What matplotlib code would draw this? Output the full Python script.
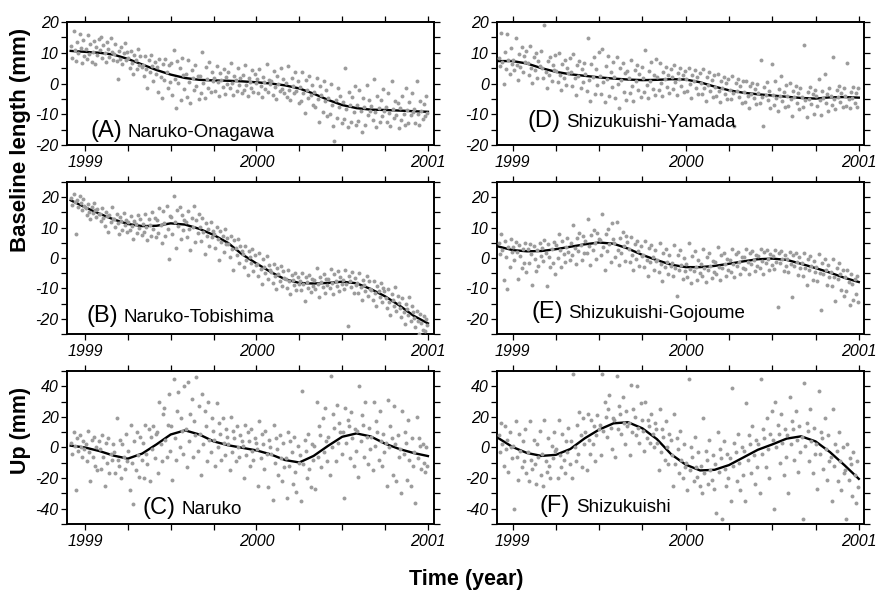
import numpy as np
import matplotlib
matplotlib.use('Agg')
import matplotlib.pyplot as plt
from matplotlib.ticker import MultipleLocator, FixedLocator

plt.rcParams['font.family'] = ['Liberation Sans', 'DejaVu Sans']
plt.rcParams['axes.unicode_minus'] = False

# first day of each month in the record, Dec 1998 .. Dec 2000
month_start = 1998 + 11 / 12 + np.arange(25) / 12
# knots of the smooth fit, one per month boundary
fit_t = 1998 + 11 / 12 + np.arange(26) / 12

year_ticks = [1999, 2000, 2001]

# (A) Naruko-Onagawa baseline (mm), 12 daily values read per month
onagawa_pts = [
    [12.1, 8.4, 17.2, 10.9, 7.3, 13.5, 9.8, 16.1, 11.6, 6.7, 14.2, 9.1],
    [11.3, 8.0, 15.8, 9.6, 12.7, 7.1, 10.4, 13.9, 6.5, 11.8, 9.2, 14.6],
    [10.8, 15.1, 8.3, 12.4, 9.9, 6.9, 13.6, 11.2, 8.7, 14.8, 10.1, 7.6],
    [9.5, 12.8, 7.2, 1.5, 10.6, 8.1, 11.9, 6.4, 9.8, 13.2, 7.7, 10.3],
    [8.3, 5.1, 10.7, 6.6, 3.2, 9.4, 7.8, 4.6, 11.2, 6.0, 8.9, 5.5],
    [6.1, 2.4, 8.8, 4.7, -1.3, 7.5, 3.6, 9.2, 5.8, 0.9, 6.9, 3.1],
    [5.4, -2.8, 7.9, 2.1, -4.6, 6.3, 1.2, 8.1, 3.9, -1.5, 5.9, 0.4],
    [6.6, -3.7, 10.8, 1.4, -8.1, 7.2, 0.3, 4.9, -5.2, 8.4, 2.7, -1.9],
    [3.2, -4.4, 7.8, 0.6, -6.3, 4.5, 1.9, -2.1, 6.1, -0.8, 2.6, -5.0],
    [2.4, -3.2, 10.4, 0.2, -4.8, 5.3, 1.6, -1.4, 7.1, -2.7, 3.8, 0.9],
    [1.8, -2.5, 5.6, 0.4, -4.1, 3.3, 1.2, -1.0, 4.7, -3.4, 2.2, -0.3],
    [3.9, -1.6, 6.8, 0.1, -3.7, 2.5, 1.3, -2.4, 5.2, -0.6, 1.9, -3.1],
    [2.8, -2.2, 5.9, -0.4, -3.9, 1.7, 0.6, -1.3, 4.4, -2.9, 3.1, 0.2],
    [1.4, -3.0, 4.6, -0.8, -4.3, 2.2, 0.5, -1.9, 6.3, -2.6, 1.0, -0.2],
    [0.9, -3.6, 4.1, -1.2, -4.9, 2.6, -0.1, -2.3, 5.0, -1.7, 1.5, -3.0],
    [0.2, -4.4, 5.8, -2.0, -5.5, 1.9, -0.9, -3.1, 3.6, -2.5, 0.7, -6.2],
    [-1.1, -5.8, 3.9, -3.0, -9.6, 1.2, -2.2, -4.7, 2.5, -3.6, -0.4, -7.1],
    [-2.9, -7.6, 1.8, -4.9, -12.6, -0.7, -3.8, -9.2, 0.9, -5.6, -2.1, -10.7],
    [-4.8, -9.9, -0.3, -6.9, -13.8, -18.7, -5.5, -11.2, -1.4, -7.6, -3.9, -12.8],
    [-6.1, -11.4, 4.9, -8.3, -14.2, -2.6, -7.0, -12.5, -4.3, -9.1, -0.8, -13.6],
    [-6.9, -12.1, -2.2, -9.0, -15.8, -4.6, -7.7, -13.4, -0.4, -10.2, -5.3, -8.8],
    [-7.3, -11.8, 1.6, -9.4, -14.1, -3.9, -8.1, -12.6, -5.2, -10.5, -1.7, -9.0],
    [-7.5, -12.4, -3.1, -9.6, -13.9, 0.8, -8.4, -11.3, -5.6, -10.1, -6.4, -14.5],
    [-7.9, -11.9, -4.2, -9.8, -13.6, -1.3, -8.6, -12.7, -5.9, -10.4, -3.0, -9.3],
    [-8.3, -12.8, 0.9, -9.9, -13.4, -5.7, -8.8, -11.6, -6.5, -10.7, -4.1, -9.5],
]
onagawa_fit = [10.6, 10.3, 10.0, 9.4, 8.0, 6.2, 4.4, 2.9, 1.8, 1.2, 1.0, 0.9, 0.7,
               0.4, 0.0, -0.6, -1.6, -3.3, -5.3, -7.0, -8.0, -8.5, -8.6, -8.8, -9.0, -9.2]

# (B) Naruko-Tobishima baseline (mm)
tobishima_pts = [
    [19.8, 17.6, 20.9, 18.4, 7.8, 19.1, 16.9, 20.3, 18.0, 15.7, 19.5, 17.2],
    [16.4, 14.1, 17.8, 15.2, 12.9, 16.8, 14.7, 18.2, 15.9, 13.4, 16.1, 14.4],
    [14.5, 12.2, 16.3, 13.1, 10.4, 15.0, 13.8, 8.6, 14.2, 11.7, 16.8, 12.9],
    [12.8, 10.1, 14.6, 11.4, 7.9, 13.5, 12.1, 9.3, 14.9, 11.0, 12.6, 8.7],
    [11.7, 9.2, 13.8, 10.5, 6.4, 12.3, 11.1, 8.1, 14.2, 10.0, 12.8, 7.5],
    [11.3, 8.6, 14.4, 10.1, 5.9, 12.7, 10.8, 7.4, 15.2, 9.6, 13.1, 6.8],
    [12.4, 8.3, 16.6, 10.9, 4.8, 15.3, 11.6, 7.1, 17.2, 9.5, -0.4, 13.8],
    [13.6, 7.9, 20.5, 11.8, 3.2, 15.9, 10.4, 16.8, 6.1, 14.3, 9.2, 12.5],
    [11.9, 6.8, 15.4, 9.7, 2.6, 13.1, 10.3, 17.0, 5.2, 12.4, 8.1, 14.6],
    [10.2, 5.6, 13.1, 8.4, 1.3, 11.5, 7.2, 9.6, 4.1, 12.0, 6.9, 8.8],
    [7.9, 3.3, 10.2, 6.1, -0.8, 8.8, 5.2, 7.4, 1.9, 9.5, 4.6, 6.7],
    [4.6, 0.2, 7.1, 2.8, -3.9, 5.9, 3.4, 1.1, 6.3, -1.7, 4.0, 2.2],
    [1.2, -2.9, 3.8, -0.7, -5.6, 2.4, 0.3, -1.8, 3.1, -4.2, 0.9, -2.3],
    [-1.9, -5.8, 1.7, -3.6, -8.7, -0.4, -2.8, -4.9, 0.8, -6.9, -2.2, -4.1],
    [-4.6, -8.3, -1.9, -5.9, -10.1, -3.4, -5.2, -7.6, -2.6, -9.2, -4.3, -6.7],
    [-6.8, -9.9, -4.1, -7.7, -11.8, -5.6, -7.1, -9.0, -4.9, -10.6, -6.3, -8.4],
    [-7.6, -10.4, -5.0, -8.5, -14.2, -6.3, -7.9, -9.8, -5.5, -11.3, -7.0, -9.1],
    [-7.2, -10.2, -3.4, -8.6, -12.9, -6.1, -7.8, -9.7, -5.3, -11.4, -6.8, -8.9],
    [-6.9, -9.8, -3.6, -8.1, -11.7, -5.4, -7.5, -9.3, -4.2, -10.8, -6.2, -8.6],
    [-7.1, -10.3, -3.9, -8.4, -22.5, -5.8, -7.7, -9.6, -4.6, -11.5, -6.5, -8.9],
    [-8.2, -11.6, -4.9, -9.5, -13.8, -7.1, -8.8, -10.7, -6.0, -12.4, -7.6, -10.1],
    [-10.4, -13.7, -7.5, -11.6, -15.9, -9.2, -10.9, -12.8, -8.1, -14.5, -9.8, -11.0],
    [-13.2, -16.4, -10.3, -14.5, -18.6, -12.0, -13.8, -15.7, -9.4, -17.3, -12.6, -14.9],
    [-16.4, -19.5, -13.1, -17.6, -21.8, -15.2, -16.9, -18.8, -12.7, -20.6, -15.7, -17.9],
    [-19.6, -22.8, -17.4, -20.7, -24.9, -18.5, -21.3, -23.6, -19.2, -24.1, -20.0, -22.1],
]
tobishima_fit = [19.0, 16.7, 14.6, 12.7, 11.2, 10.5, 10.6, 11.4, 11.0, 9.6, 7.6, 5.0, 1.2,
                 -1.8, -4.6, -7.0, -8.2, -8.4, -8.2, -7.8, -8.3, -10.2, -12.6, -15.6, -19.0, -21.5]

# (C) Naruko vertical (mm)
naruko_up_pts = [
    [3, -4, 10, 1, -28, 6, -2, 8, 0, -6, 4, -1],
    [2, -9, 11, -3, -22, 5, -6, 7, -12, 0, -15, 4],
    [-1, -14, 8, -6, -25, 3, -10, 6, -17, -4, -8, 2],
    [-3, -17, 19, -8, -12, 5, -20, 2, -6, -14, 9, -9],
    [-2, -28, 15, -10, -37, 4, -15, 10, -5, -19, 7, -8],
    [3, -20, 15, -4, -11, 12, -22, 7, -1, 14, -7, 9],
    [10, -17, 30, 2, -9, 22, 26, 5, -6, 15, 35, -2],
    [14, -21, 45, 6, -8, 24, 36, 0, 19, 11, -4, 40],
    [12, -13, 43, 4, 22, 32, -6, 17, 8, 46, -2, 27],
    [9, -18, 35, 2, 24, 14, -9, 30, 5, -3, 19, 11],
    [5, -12, 29, 0, 16, 9, -8, 19, 3, -5, 12, 7],
    [2, -15, 20, -3, 11, 6, -9, 14, 0, -6, 8, 4],
    [1, -20, 15, -5, 10, 4, -12, 12, -2, -8, 6, 3],
    [-1, -25, 17, -7, 9, 2, -14, 11, -4, -26, 5, 0],
    [-4, -34, 15, -10, 6, -1, -18, 8, -7, -22, 3, -13],
    [-7, -33, 10, -12, 4, -3, -24, 7, -16, -29, 1, -10],
    [-5, -35, 37, -11, 5, -2, -20, 9, -14, -26, 2, -8],
    [1, -27, 30, -6, 14, 8, -13, 19, -3, 26, 4, -9],
    [7, -18, 47, 0, 22, 13, -9, 28, 3, 16, 10, -4],
    [10, -33, 26, 3, 18, 14, -7, 23, 6, -12, 12, -2],
    [11, -19, 40, 4, 21, 15, -6, 30, 7, -11, 13, -1],
    [7, -15, 30, 1, 17, 10, -8, 24, 4, -12, 9, -3],
    [3, -25, 31, 0, 14, 6, -18, 27, 2, -22, 8, -6],
    [-1, -30, 24, -4, 10, 3, -21, 18, -8, -25, 6, -12],
    [-3, -36, 20, -7, 6, 1, -14, 2, -10, -16, 0, -12],
]
naruko_up_fit = [1.2, 0.0, -2.3, -5.3, -7.3, -4.0, 2.0, 8.5, 11.2, 8.5, 4.0, 1.5, -0.2,
                 -1.9, -4.5, -8.2, -9.8, -5.5, 1.0, 7.0, 9.2, 7.2, 2.5, -1.0, -3.6, -5.6]

# (D) Shizukuishi-Yamada baseline (mm)
yamada_pts = [
    [8.4, 5.6, 16.5, 6.9, -0.3, 10.2, 4.8, 16.0, 7.7, 3.1, 11.6, 6.2],
    [7.8, 4.3, 14.8, 6.1, 1.2, 9.6, 5.5, 11.8, 3.6, 8.9, 7.0, 10.7],
    [6.6, 2.9, 12.1, 5.0, 0.3, 8.5, 4.4, 9.9, 1.8, 7.3, 5.8, 10.6],
    [5.1, 1.7, 19.0, 3.8, -1.6, 7.2, 2.9, 8.6, 0.8, 6.0, 4.5, 9.4],
    [4.2, 0.6, 9.8, 2.7, -2.1, 6.3, 1.9, 7.7, -0.5, 5.1, 3.3, 8.2],
    [3.6, -0.9, 9.5, 1.8, -3.8, 5.9, 2.5, 7.4, -1.6, 4.7, 0.4, 6.8],
    [3.1, -2.4, 14.9, 1.0, -5.7, 6.4, 2.2, 8.5, -3.3, 4.6, -0.6, 10.3],
    [2.6, -3.5, 11.1, 0.4, -6.1, 5.8, 1.5, 8.9, -4.2, 3.9, -1.2, 7.1],
    [2.2, -4.6, 8.7, -0.3, -7.9, 5.2, 1.1, 6.6, -2.7, 3.5, -5.4, 4.1],
    [1.9, -3.1, 7.8, -0.8, -5.6, 4.4, 0.7, 6.1, -2.0, 3.0, -4.3, 5.3],
    [1.7, -2.6, 11.0, -0.4, -4.8, 4.1, 0.9, 6.9, -1.9, 2.8, -3.7, 7.9],
    [2.0, -2.2, 6.8, 0.2, -3.9, 3.7, 1.4, 5.5, -1.1, 2.9, -3.0, 4.6],
    [2.1, -1.9, 5.9, 0.5, -3.6, 3.4, 1.6, 4.9, -0.9, 2.7, -2.8, 4.2],
    [1.4, -2.5, 5.2, -0.2, -4.7, 2.9, 0.8, 4.3, -1.6, 2.1, -3.4, 3.5],
    [0.3, -3.4, 4.8, -1.3, -5.6, 2.0, -0.4, 3.6, -2.5, 1.2, -4.5, 2.7],
    [-1.0, -4.2, 3.1, -2.3, -5.9, 0.8, -1.6, 2.2, -3.4, 0.1, -4.9, 1.5],
    [-2.0, -5.1, 2.6, -3.2, -13.8, 0.2, -2.5, 1.4, -4.3, -0.8, -6.2, 0.9],
    [-2.8, -5.9, 0.9, -3.9, -7.8, -0.7, -3.3, 0.3, -4.8, -1.8, -6.7, -0.2],
    [-3.2, -6.4, 7.5, -4.4, -13.9, -1.2, -3.7, 0.6, -5.3, -2.3, -8.1, 6.4],
    [-3.6, -6.9, 0.8, -4.7, -8.9, -1.9, -4.0, 2.6, -5.8, -2.8, -7.6, -0.6],
    [-4.0, -7.3, 0.2, -5.1, -10.6, -2.4, -4.5, -0.7, -6.2, -3.2, -8.4, -1.5],
    [-4.3, -7.6, 12.5, -5.4, -10.9, -2.8, -4.9, -1.1, -6.6, -3.5, -9.8, -2.0],
    [-4.1, -7.4, 1.6, -5.2, -10.1, -2.5, -4.6, 3.0, -6.3, -3.3, -8.9, -1.4],
    [-3.9, -7.0, 8.7, -5.0, -8.2, -2.2, -4.4, -0.9, -6.0, -3.0, -7.7, -1.3],
    [-4.0, -7.2, 6.8, -5.1, -8.0, -2.6, -4.6, -1.2, -6.2, -3.1, -7.5, -1.4],
]
yamada_fit = [7.3, 7.3, 6.5, 5.0, 3.8, 3.0, 2.5, 2.0, 1.6, 1.3, 1.1, 1.2, 1.4,
              1.3, 0.4, -1.0, -2.2, -3.0, -3.5, -3.9, -4.3, -4.7, -4.9, -4.5, -4.4, -4.6]

# (E) Shizukuishi-Gojoume baseline (mm)
gojoume_pts = [
    [4.8, 1.2, 7.9, 2.6, -7.1, 5.5, 0.4, -10.1, 3.7, -2.8, 6.2, 1.9],
    [3.5, -0.8, 5.2, 1.9, -6.9, 4.4, 0.6, -3.3, 2.8, -1.7, 4.9, -4.6],
    [3.1, -1.5, 4.6, 1.3, -8.8, 4.1, -0.2, -4.4, 2.5, -2.6, 5.0, 0.7],
    [3.4, -0.9, 5.8, 1.6, -9.2, 4.7, 0.3, -3.1, 2.9, -1.8, 5.3, -5.2],
    [4.2, 0.1, 7.9, 2.5, -2.9, 5.6, 1.4, -1.4, 3.6, 6.7, 2.0, -0.6],
    [5.0, 0.9, 10.9, 3.3, -2.1, 6.6, 2.2, 8.1, 4.3, -0.8, 7.4, 1.6],
    [5.7, 1.5, 12.8, 3.9, -2.3, 7.5, 2.6, 9.3, 4.9, -0.4, 8.2, 6.4],
    [5.9, 1.1, 14.6, 3.6, -3.8, 7.8, 2.3, 9.7, 4.7, -1.2, 11.5, 6.1],
    [4.8, 0.4, 11.8, 2.7, -2.2, 6.6, 1.6, 8.5, 3.9, -0.9, 7.2, 5.4],
    [2.9, -1.3, 6.8, 1.0, -3.9, 4.6, -0.2, 5.7, 2.2, -2.5, 3.8, 0.5],
    [1.1, -2.9, 5.6, -0.6, -5.8, 3.2, -1.4, 4.3, 0.4, -3.8, 2.5, -0.9],
    [-0.5, -4.6, 4.9, -2.1, -7.7, 1.8, -2.9, 3.1, -1.2, -5.4, 0.9, -2.5],
    [-1.6, -5.9, 4.2, -3.3, -12.4, 0.9, -3.9, 2.6, -2.4, -6.8, 0.1, -4.4],
    [-2.0, -6.3, 4.8, -3.7, -8.1, 0.5, -4.2, 2.2, -2.8, -7.2, -0.6, -5.0],
    [-1.9, -5.8, 2.9, -3.4, -7.9, 0.3, -3.9, 1.5, -2.6, -6.6, -0.9, -4.6],
    [-1.3, -5.2, 3.7, -2.8, -7.1, 0.9, -3.3, 1.8, -2.0, -5.9, -0.3, -4.0],
    [-0.6, -4.5, 2.8, -2.1, -6.2, 1.3, -2.6, 2.0, -1.3, -5.1, 0.4, -3.3],
    [0.2, -3.7, 2.9, -1.4, -5.3, 1.8, -1.9, 2.4, -0.6, -4.3, 1.0, -2.6],
    [0.6, -3.3, 3.1, -1.0, -5.1, 2.0, -1.5, 2.6, -0.2, -4.0, 1.4, -2.2],
    [0.5, -3.5, 2.7, -1.2, -16.1, 1.8, -1.7, 2.3, -0.3, -4.4, 1.1, -2.5],
    [-0.4, -4.5, 2.0, -2.1, -12.8, 0.9, -2.6, 1.5, -1.2, -5.6, 0.3, -3.3],
    [-1.7, -6.0, 1.6, -3.4, -8.9, -0.2, -3.9, 0.8, -2.5, -7.1, -0.9, -4.7],
    [-3.0, -7.6, 1.2, -4.8, -17.0, -1.7, -5.3, -0.4, -3.9, -8.8, -2.4, -6.1],
    [-4.6, -9.2, -0.3, -6.3, -14.1, -3.2, -6.9, -1.8, -5.4, -10.5, -3.9, -12.6],
    [-6.3, -10.8, -4.1, -7.9, -15.4, -5.2, -8.4, -13.7, -7.0, -11.9, -5.8, -14.6],
]
gojoume_fit = [3.8, 2.6, 2.2, 2.3, 2.9, 3.7, 4.5, 5.1, 4.7, 3.1, 1.0, -0.7, -2.2,
               -3.0, -3.0, -2.6, -1.9, -1.1, -0.4, -0.2, -0.6, -1.9, -3.3, -4.8, -6.5, -7.9]

# (F) Shizukuishi vertical (mm)
shizukuishi_up_pts = [
    [8, -3, 16, 2, -12, 14, -1, 5, -16, 10, 0, -7],
    [1, -40, 17, -6, -21, 9, -2, -13, 4, -9, 12, -17],
    [-3, -22, 17, -8, -14, 5, -11, -24, 2, -6, 11, -18],
    [-4, -25, 18, -9, -16, 6, -12, -20, 1, -7, 10, -2],
    [-1, -20, 18, -5, -13, 9, -8, -17, 4, -3, 13, -11],
    [4, -20, 48, 0, -9, 15, -4, 23, 8, -13, 19, 2],
    [10, -15, 22, 5, -4, 18, 2, 14, -9, 8, 21, 12],
    [15, -5, 48, 11, 30, 20, 7, 25, 34, 13, -1, 19],
    [18, -6, 47, 12, 27, 22, 9, 33, 16, 2, 24, 14],
    [16, -5, 41, 10, 25, 20, 8, 40, 13, 3, 29, 18],
    [11, -2, 30, 6, 18, 14, 3, 22, 9, 0, 16, 12],
    [3, -15, 25, -3, 12, 7, -8, 17, 0, -11, 9, 5],
    [-5, -25, 22, -11, 6, -1, -17, 11, -8, -20, 2, -13],
    [-10, -28, 45, -15, 0, -6, -22, 7, -13, -19, -3, -25],
    [-12, -30, 19, -17, -2, -8, -24, 5, -15, -21, -5, -27],
    [-11, -43, 10, -16, -1, -7, -47, 4, -14, -25, -4, -20],
    [-7, -35, 39, -12, 3, -3, -22, 9, -10, -28, 0, -18],
    [-2, -35, 29, -8, 8, 2, -17, 14, -5, -24, 5, -13],
    [2, -30, 45, -4, 12, 6, -13, 19, -1, -20, 9, 24],
    [5, -40, 30, 0, 15, 9, -10, 22, 3, -18, 12, -6],
    [8, -30, 33, 2, 17, 12, -8, 24, 5, -16, 14, -3],
    [7, -47, 42, 1, 16, 11, -9, 25, 4, -17, 13, -4],
    [2, -27, 37, -4, 10, 6, -14, 19, -1, -21, 8, -9],
    [-6, -35, 25, -12, 2, -2, -22, 10, -9, -28, 0, -17],
    [-15, -47, 2, -21, -7, -11, -32, -3, -18, -36, -9, -26],
]
shizukuishi_up_fit = [6.2, 0.3, -3.6, -5.5, -4.8, -1.0, 6.0, 11.7, 15.8, 16.5, 12.5, 5.5, -4.5,
                      -11.2, -15.0, -14.6, -11.5, -6.5, -1.5, 2.0, 5.8, 7.3, 4.0, -3.0, -11.5, -20.5]

# panel layout: rect, xlim, ylim, y major/minor step, letter, name, label pos (axes frac)
panels = [
    ([0.0761, 0.7542, 0.417, 0.2085], (1998.895, 2001.035), (-20, 20), 10, 5,
     '(A)', 'Naruko-Onagawa', (0.063, 0.065), onagawa_pts, onagawa_fit),
    ([0.0761, 0.4339, 0.417, 0.2576], (1998.895, 2001.035), (-25, 25), 10, 5,
     '(B)', 'Naruko-Tobishima', (0.054, 0.079), tobishima_pts, tobishima_fit),
    ([0.0761, 0.1119, 0.417, 0.2593], (1998.895, 2001.035), (-50, 50), 20, 10,
     '(C)', 'Naruko', (0.207, 0.065), naruko_up_pts, naruko_up_fit),
    ([0.5648, 0.7542, 0.417, 0.2085], (1998.91, 2001.03), (-20, 20), 10, 5,
     '(D)', 'Shizukuishi-Yamada', (0.084, 0.146), yamada_pts, yamada_fit),
    ([0.5648, 0.4339, 0.417, 0.2576], (1998.91, 2001.03), (-25, 25), 10, 5,
     '(E)', 'Shizukuishi-Gojoume', (0.093, 0.105), gojoume_pts, gojoume_fit),
    ([0.5648, 0.1119, 0.417, 0.2593], (1998.91, 2001.03), (-50, 50), 20, 10,
     '(F)', 'Shizukuishi', (0.117, 0.078), shizukuishi_up_pts, shizukuishi_up_fit),
]

fig = plt.figure(figsize=(8.8, 5.9), dpi=100)
renderer = fig.canvas.get_renderer()

for rect, xlim, ylim, ymaj, ymin, letter, name, lpos, pts, fit in panels:
    ax = fig.add_axes(rect)

    # spread each month's values across that month
    t = []
    y = []
    for k, vals in enumerate(pts):
        for j, v in enumerate(vals):
            t.append(month_start[k] + (j + 0.5) / len(vals) / 12)
            y.append(v)

    ax.plot(fit_t, fit, color='black', lw=1.7, zorder=2)
    ax.scatter(t, y, s=8, color='#9c9c9c', linewidths=0, zorder=3)

    ax.set_xlim(xlim)
    ax.set_ylim(ylim)
    ax.xaxis.set_major_locator(FixedLocator(year_ticks))
    ax.xaxis.set_minor_locator(MultipleLocator(0.25))
    ax.yaxis.set_major_locator(MultipleLocator(ymaj))
    ax.yaxis.set_minor_locator(MultipleLocator(ymin))
    ax.set_xticklabels([str(v) for v in year_ticks], fontstyle='italic', fontsize=11.5)
    for lab in ax.get_yticklabels():
        lab.set_fontstyle('italic')
        lab.set_fontsize(11.5)
    ax.tick_params(which='both', direction='out', top=True, right=True,
                   length=4, width=0.9, pad=2)
    ax.tick_params(axis='x', which='major', pad=3)
    for sp in ax.spines.values():
        sp.set_linewidth(1.4)

    # panel label: big letter, then station name
    lt = ax.text(lpos[0], lpos[1], letter, transform=ax.transAxes,
                 fontsize=17, ha='left', va='baseline', zorder=4)
    bb = lt.get_window_extent(renderer).transformed(ax.transAxes.inverted())
    ax.text(bb.x1 + 0.015, lpos[1], name, transform=ax.transAxes,
            fontsize=13.5, ha='left', va='baseline', zorder=4)

fig.text(0.023, 0.763, 'Baseline length (mm)', rotation=90, ha='center', va='center',
         fontsize=16, fontweight='bold')
fig.text(0.023, 0.271, 'Up (mm)', rotation=90, ha='center', va='center',
         fontsize=15.5, fontweight='bold')
fig.text(0.53, 0.017, 'Time (year)', ha='center', va='center',
         fontsize=15.5, fontweight='bold')

plt.savefig('out.png', dpi=100)
